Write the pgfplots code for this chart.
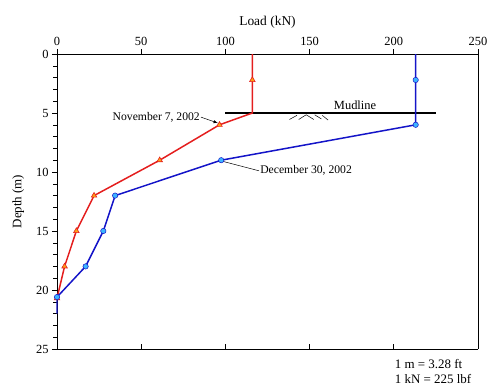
\documentclass[border=0pt]{standalone}
\usepackage{pgfplots}
\pgfplotsset{compat=1.18}
\usepackage{fontspec}
\setmainfont{Liberation Serif}
\definecolor{redl}{RGB}{228,30,30}
\definecolor{bluel}{RGB}{20,20,200}
\definecolor{orangef}{RGB}{255,160,20}
\definecolor{cyanf}{RGB}{60,180,255}
\begin{document}
\begin{tikzpicture}
\begin{axis}[
  scale only axis, width=421bp, height=295bp,
  xmin=0, xmax=250, ymin=0, ymax=25, y dir=reverse,
  axis x line*=top, axis y line*=left,
  xtick={0,50,100,150,200,250}, ytick={0,5,...,25},
  minor y tick num=4,
  tick align=outside, major tick length=5bp, minor tick length=3.5bp,
  tick style={black, line width=0.8pt},
  minor tick style={black, line width=0.6pt},
  axis line style={line width=0.8pt},
  xlabel={Load (kN)}, ylabel={Depth (m)},
  xlabel style={font=\fontsize{13.5}{15}\selectfont, yshift=2bp},
  ylabel style={font=\fontsize{13}{15}\selectfont, yshift=5bp},
  ticklabel style={font=\fontsize{12.5}{14}\selectfont},
  /pgf/number format/assume math mode=true,
  clip=false,
]
% Mudline
\addplot[black, line width=1.6pt] coordinates {(100,5) (225,5)};
\addplot[black, line width=0.5pt] coordinates {(138,5.55) (142.5,5.2)};
\addplot[black, line width=0.5pt] coordinates {(143.5,5.55) (148,5.15)};
\addplot[black, line width=0.5pt] coordinates {(148,5.15) (152.5,5.55)};
\addplot[black, line width=0.5pt] coordinates {(153,5.15) (157,5.5)};
\addplot[black, line width=0.5pt] coordinates {(157.5,5.2) (161,5.6)};
% Red series (November 7, 2002)
\addplot[redl, line width=1.5pt] coordinates {
(116,0) (116,2.2) (116,5) (96.5,6) (61,9) (22,12) (11.5,15) (4.5,18) (0,20.7)};
\addplot[only marks, mark=triangle*, mark size=3.2pt, draw=redl, fill=orangef, line width=0.6pt] coordinates {
(116,2.2) (96.5,6) (61,9) (22,12) (11.5,15) (4.5,18) (0,20.7)};
% Blue series (December 30, 2002)
\addplot[bluel, line width=1.5pt] coordinates {
(213,0) (213,2.2) (213,6) (97.5,9) (34.5,12) (27.5,15) (17,18) (0,20.6) (0,22)};
\addplot[only marks, mark=*, mark size=2.7pt, draw=bluel, fill=cyanf, line width=0.5pt] coordinates {
(213,2.2) (213,6) (97.5,9) (34.5,12) (27.5,15) (17,18) (0,20.6)};
% annotations
\node[anchor=south, font=\fontsize{12.5}{14}\selectfont, inner sep=1bp] at (axis cs:177,4.85) {Mudline};
\node[anchor=east, font=\fontsize{11.7}{13}\selectfont, inner sep=1bp] (nov) at (axis cs:85.5,5.35) {November 7, 2002};
\draw[-{latex}, line width=0.5pt] (nov.east) -- (axis cs:95.5,5.85);
\node[anchor=west, font=\fontsize{11.7}{13}\selectfont, inner sep=1bp] (dec) at (axis cs:120,9.9) {December 30, 2002};
\draw[line width=0.5pt] (axis cs:98.5,9.1) -- (dec.west);
% bottom-right note
\node[anchor=north west, font=\fontsize{13}{15.5}\selectfont, align=left, inner sep=0pt] at (axis cs:200.5,25.85) {1 m = 3.28 ft\\1 kN = 225 lbf};
\end{axis}
\begin{axis}[
  scale only axis, width=421bp, height=295bp,
  xmin=0, xmax=250, ymin=0, ymax=25, y dir=reverse,
  axis x line*=bottom, axis y line*=right,
  xtick={0,50,100,150,200,250}, xticklabels={}, ytick=\empty,
  tick align=inside, major tick length=5bp,
  tick style={black, line width=0.8pt},
  axis line style={line width=0.8pt},
]
\end{axis}
\path (-57bp,-43bp) rectangle (436bp,349bp);
\end{tikzpicture}
\end{document}
